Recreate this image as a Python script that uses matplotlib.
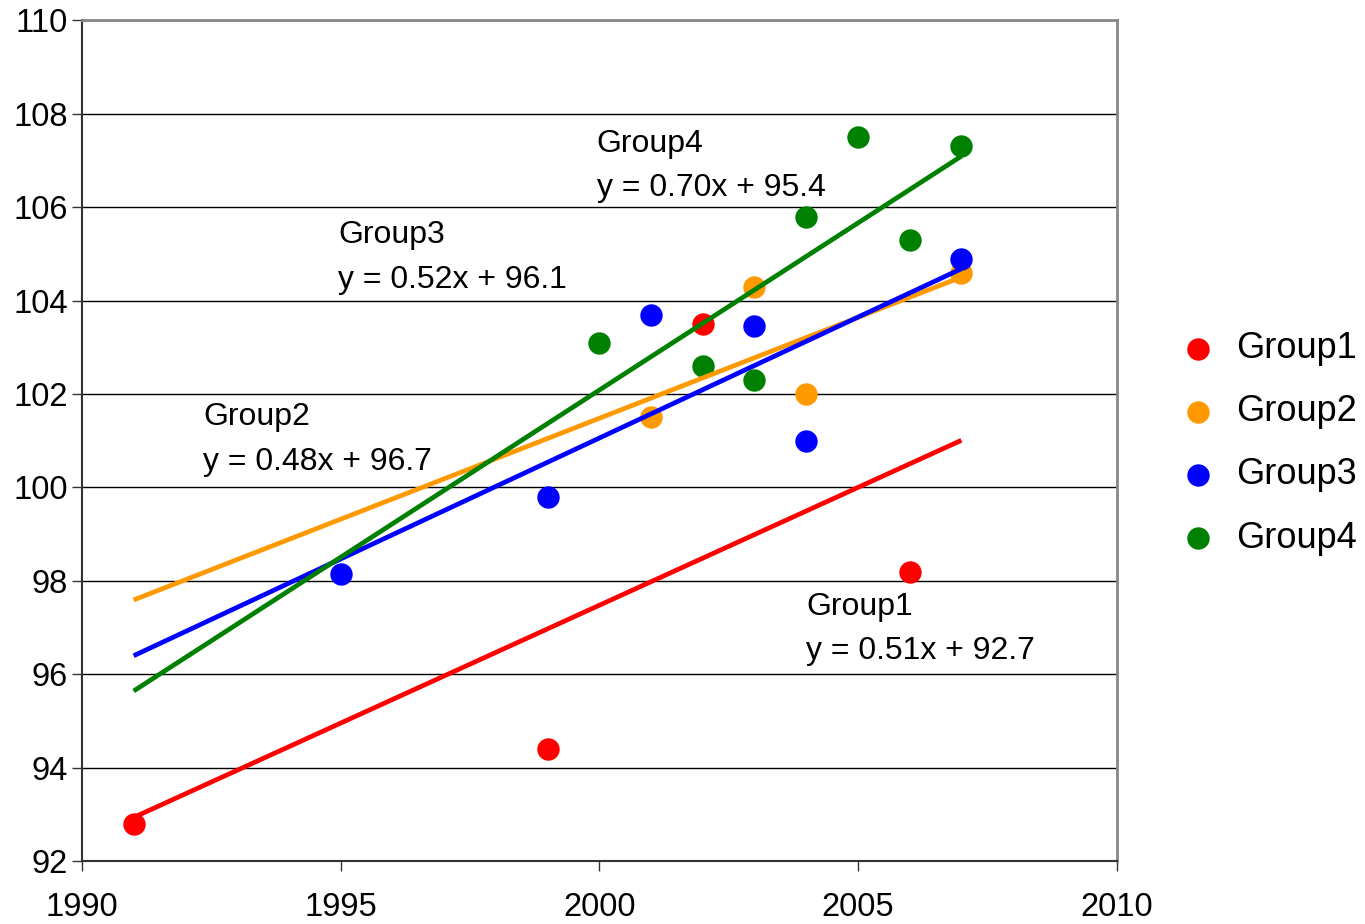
import numpy as np
import matplotlib
matplotlib.use("Agg")
import matplotlib.pyplot as plt

plt.rcParams['font.family'] = ['Liberation Sans', 'DejaVu Sans']

# data
groups = ["Group1", "Group2", "Group3", "Group4"]
colors = ["#ff0000", "#ff9900", "#0000ff", "#008000"]

g1_x = [1991, 1999, 2002, 2006]
g1_y = [92.8, 94.4, 103.5, 98.2]
g2_x = [2001, 2003, 2004, 2007]
g2_y = [101.5, 104.3, 102.0, 104.6]
g3_x = [1995, 1999, 2001, 2003, 2004, 2007]
g3_y = [98.15, 99.8, 103.7, 103.45, 101.0, 104.9]
g4_x = [2000, 2002, 2003, 2004, 2005, 2006, 2007]
g4_y = [103.1, 102.6, 102.3, 105.8, 107.5, 105.3, 107.3]

trend_start = 1991
trend_end = 2007

equations = ["y = 0.51x + 92.7", "y = 0.48x + 96.7",
             "y = 0.52x + 96.1", "y = 0.70x + 95.4"]
# label anchor (left x, name y, equation y) in data units
label_x = [2004.0, 1992.35, 1994.95, 1999.95]
label_name_y = [97.45, 101.5, 105.4, 107.35]
label_eq_y = [96.5, 100.55, 104.45, 106.4]

xs = [g1_x, g2_x, g3_x, g4_x]
ys = [g1_y, g2_y, g3_y, g4_y]

fig = plt.figure(figsize=(13.65, 9.24), dpi=100)
ax = fig.add_axes([0.060, 0.068, 0.758, 0.910])

for i in range(4):
    ax.scatter(xs[i], ys[i], s=260, color=colors[i], label=groups[i],
               zorder=3, linewidths=0)
    k, b = np.polyfit(xs[i], ys[i], 1)
    tx = np.array([trend_start, trend_end])
    ax.plot(tx, k * tx + b, color=colors[i], lw=3.4, zorder=4,
            solid_capstyle='butt')
    ax.text(label_x[i], label_name_y[i], groups[i], fontsize=23,
            va='center', ha='left')
    ax.text(label_x[i], label_eq_y[i], equations[i], fontsize=23,
            va='center', ha='left')

ax.set_xlim(1990, 2010)
ax.set_ylim(92, 110)
ax.set_xticks(range(1990, 2011, 5))
ax.set_yticks(range(92, 111, 2))
ax.grid(axis='y', color='black', lw=1)
ax.set_axisbelow(True)
ax.tick_params(labelsize=23.5, length=7, width=1, color='#333333', pad=3)
ax.tick_params(axis='x', pad=15)

for side in ['top', 'right']:
    ax.spines[side].set_color('#888888')
    ax.spines[side].set_linewidth(2)
for side in ['left', 'bottom']:
    ax.spines[side].set_color('#333333')
    ax.spines[side].set_linewidth(1.5)

ax.legend(loc='center left', bbox_to_anchor=(1.035, 0.497), frameon=False,
          fontsize=26, handletextpad=0.5, labelspacing=0.78,
          markerscale=1.0, handlelength=1.1, borderaxespad=0.3)

fig.savefig("out.png", dpi=100)
